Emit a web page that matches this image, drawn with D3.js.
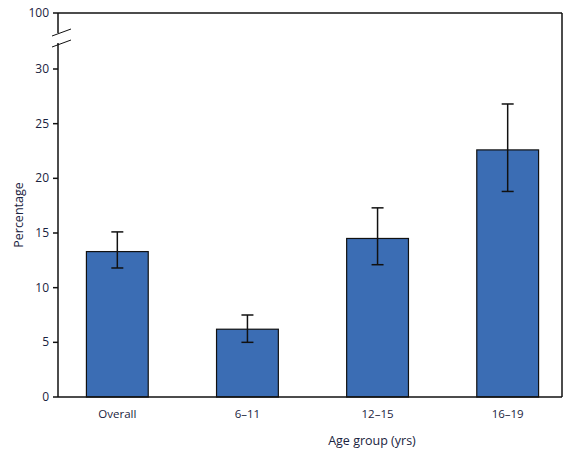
<!DOCTYPE html>
<html><head><meta charset="utf-8">
<script src="https://cdn.jsdelivr.net/npm/d3@7"></script>
<style>body{margin:0;background:#fff}text{font-family:"Open Sans",sans-serif;fill:#1a2340}</style>
</head><body><svg id="c" width="574" height="461"></svg>
<script>
var categories = ["Overall", "6\u201311", "12\u201315", "16\u201319"]
var values = [13.3, 6.2, 14.5, 22.6]
var lower = [11.8, 5.0, 12.1, 18.8]
var upper = [15.1, 7.5, 17.3, 26.8]
var yTicks = [0, 5, 10, 15, 20, 25, 30]

var svg = d3.select("#c")
var L = 58, R = 562, T = 13, B = 397

var x = d3.scaleBand().domain(categories).range([L+5, R]).paddingInner(0.525).paddingOuter(0.18)
var y = d3.scaleLinear().domain([0, 30]).range([B, 69])

/// Bars
svg.selectAll("rect.bar").data(values).enter().append("rect")
  .attr("x", (d,i) => x(categories[i]))
  .attr("y", d => y(d))
  .attr("width", x.bandwidth())
  .attr("height", d => B - y(d))
  .attr("fill", "#3b6db4").attr("stroke", "#111").attr("stroke-width", 1.2)

/// Error bars
var eb = svg.append("g").attr("stroke", "#111").attr("stroke-width", 1.5)
categories.forEach(function(c, i){
  var cx = x(c) + x.bandwidth()/2
  eb.append("line").attr("x1", cx).attr("x2", cx).attr("y1", y(lower[i])).attr("y2", y(upper[i]))
  eb.append("line").attr("x1", cx-6).attr("x2", cx+6).attr("y1", y(lower[i])).attr("y2", y(lower[i]))
  eb.append("line").attr("x1", cx-6).attr("x2", cx+6).attr("y1", y(upper[i])).attr("y2", y(upper[i]))
})

/// Frame
var fr = svg.append("g").attr("stroke", "#111").attr("stroke-width", 1.5).attr("fill", "none")
fr.append("line").attr("x1", L).attr("x2", R).attr("y1", T).attr("y2", T)
fr.append("line").attr("x1", L).attr("x2", R).attr("y1", B).attr("y2", B)
fr.append("line").attr("x1", R).attr("x2", R).attr("y1", T).attr("y2", B)
fr.append("line").attr("x1", L).attr("x2", L).attr("y1", T).attr("y2", 33)
fr.append("line").attr("x1", L).attr("x2", L).attr("y1", 43).attr("y2", B)
fr.append("line").attr("x1", 52).attr("x2", 71).attr("y1", 36).attr("y2", 29).attr("stroke-width", 1)
fr.append("line").attr("x1", 52).attr("x2", 71).attr("y1", 47).attr("y2", 40).attr("stroke-width", 1)

/// Y axis ticks
yTicks.forEach(function(t){
  fr.append("line").attr("x1", L-5).attr("x2", L).attr("y1", y(t)).attr("y2", y(t))
  svg.append("text").attr("x", L-9).attr("y", y(t)+4).attr("text-anchor", "end").attr("font-size", 12).text(t)
})
fr.append("line").attr("x1", L-5).attr("x2", L).attr("y1", T).attr("y2", T)
svg.append("text").attr("x", L-9).attr("y", T+4).attr("text-anchor", "end").attr("font-size", 12).text(100)

/// X labels
categories.forEach(function(c){
  var cx = x(c) + x.bandwidth()/2
  svg.append("text").attr("x", cx).attr("y", 418).attr("text-anchor", "middle").attr("font-size", 11.5).text(c)
})

svg.append("text").attr("x", 372).attr("y", 445).attr("text-anchor", "middle").attr("font-size", 12.5).text("Age group (yrs)")
svg.append("text").attr("transform", "translate(23,215) rotate(-90)").attr("text-anchor", "middle").attr("font-size", 12.5).text("Percentage")
</script></body></html>
